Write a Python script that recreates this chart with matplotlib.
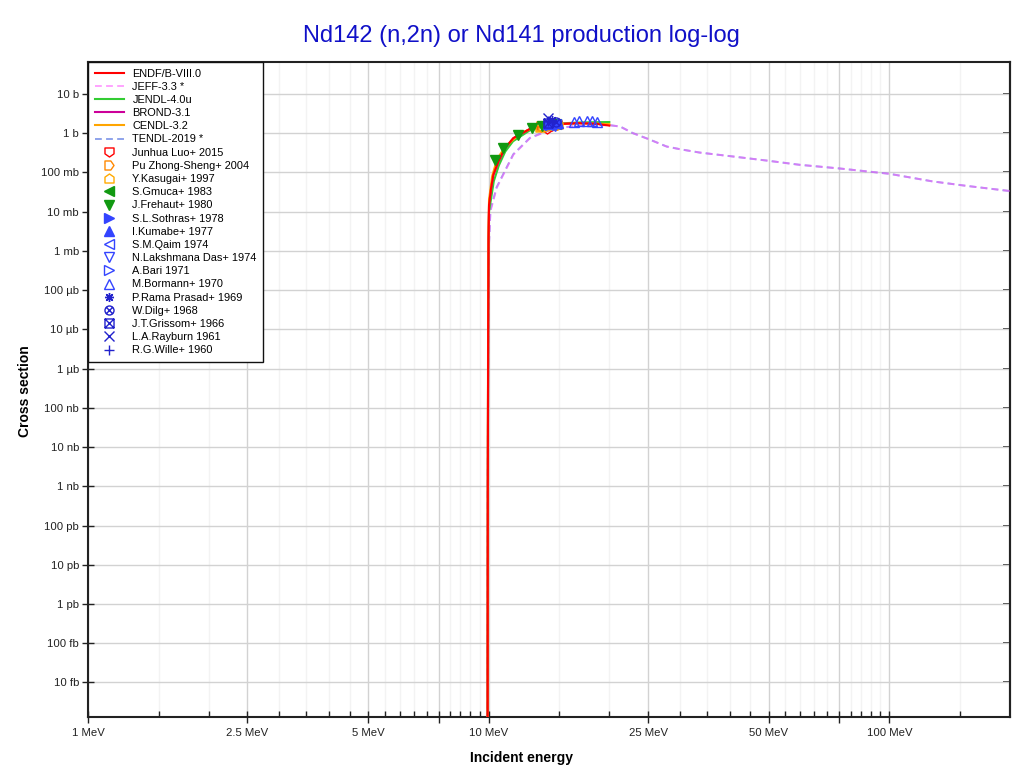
import numpy as np
import matplotlib
matplotlib.use('Agg')
import matplotlib.pyplot as plt
from matplotlib.path import Path

plt.rcParams['font.family'] = ['Liberation Sans', 'DejaVu Sans']

# ---------------- evaluated data (energy MeV, cross section b) ----------------
endf_e = [9.935, 9.95, 9.97, 9.99, 10.02, 10.14, 10.27, 10.57, 10.98, 11.52, 12.68, 13.95, 15.31, 16.85, 18.6, 20.0]
endf_s = [1e-17, 1e-9, 1e-5, 2e-3, 0.015, 0.04, 0.087, 0.19, 0.415, 0.746, 1.29, 1.56, 1.72, 1.80, 1.72, 1.56]

jeff_e = [9.935, 9.95, 9.97, 10.0, 10.1, 10.47, 11.52, 12.68, 13.95, 15.31, 16.85, 18.5, 20.0, 21.3, 22.9, 25.1, 27.8,
          30.0, 33.6, 40.7, 50.0, 59.7, 75.0, 100.0, 128.0, 155.0, 200.0]
jeff_s = [1e-17, 1e-9, 1e-5, 1e-3, 0.01, 0.04, 0.28, 0.746, 1.1, 1.39, 1.53, 1.6, 1.6, 1.47, 1.0, 0.70, 0.456,
          0.39, 0.32, 0.254, 0.197, 0.156, 0.126, 0.092, 0.059, 0.0456, 0.0334]

tendl_e = [9.935, 9.95, 9.97, 10.0, 10.1, 10.47, 11.52, 12.68, 13.95, 15.31, 16.85, 18.5, 20.0, 21.3, 22.9, 25.1, 27.8,
           30.0, 33.6, 40.7, 50.0, 59.7, 75.0, 100.0, 128.0, 155.0, 200.0]
tendl_s = [1e-17, 1e-9, 1e-5, 1e-3, 0.011, 0.042, 0.29, 0.76, 1.12, 1.40, 1.54, 1.6, 1.6, 1.47, 1.0, 0.70, 0.456,
           0.39, 0.32, 0.254, 0.197, 0.156, 0.126, 0.092, 0.059, 0.0456, 0.0334]

jendl_e = [9.935, 9.95, 9.97, 9.99, 10.02, 10.3, 10.6, 11.0, 11.5, 12.7, 14.0, 15.3, 17.0, 20.0]
jendl_s = [1e-17, 1e-9, 1e-5, 1e-3, 0.01, 0.06, 0.15, 0.34, 0.62, 1.2, 1.6, 1.78, 1.88, 1.92]

brond_e = [9.935, 9.95, 9.97, 9.99, 10.02, 10.14, 10.27, 10.57, 10.98, 11.52, 12.68, 13.95, 15.31, 16.85, 18.6, 20.0]
brond_s = [1e-17, 1e-9, 1e-5, 2e-3, 0.015, 0.04, 0.085, 0.185, 0.41, 0.74, 1.28, 1.56, 1.73, 1.80, 1.74, 1.6]

cendl_e = [9.935, 9.95, 9.97, 9.99, 10.02, 10.2, 10.5, 11.0, 12.0, 13.0, 14.0, 15.0, 17.0, 20.0]
cendl_s = [1e-17, 1e-8, 1e-4, 4e-3, 0.02, 0.08, 0.22, 0.45, 1.0, 1.38, 1.6, 1.72, 1.78, 1.7]

# ---------------- experimental data ----------------
luo_e = [13.5, 14.0, 14.4, 14.8];            luo_s = [1.45, 1.3, 1.55, 1.6]
pu_e = [13.5, 14.1, 14.6, 14.8];             pu_s = [1.55, 1.6, 1.65, 1.7]
kasugai_e = [13.4, 13.7, 14.1, 14.5, 14.9];  kasugai_s = [1.45, 1.5, 1.6, 1.62, 1.68]
gmuca_e = [14.7];                            gmuca_s = [1.75]
frehaut_e = [10.37, 10.88, 11.86, 12.8, 13.6, 14.5]
frehaut_s = [0.21, 0.43, 0.905, 1.34, 1.56, 1.7]
sothras_e = [14.8];                          sothras_s = [1.65]
kumabe_e = [14.1, 14.5, 14.9];               kumabe_s = [1.75, 1.78, 1.8]
qaim_e = [14.7];                             qaim_s = [1.7]
das_e = [14.6];                              das_s = [1.55]
bari_e = [14.2];                             bari_s = [1.65]
bormann_e = [16.3, 16.85, 17.6, 18.1, 18.6]; bormann_s = [1.97, 2.05, 2.05, 2.0, 1.97]
prasad_e = [14.4];                           prasad_s = [2.2]
dilg_e = [14.7];                             dilg_s = [1.9]
grissom_e = [14.1];                          grissom_s = [1.8]
rayburn_e = [14.1];                          rayburn_s = [2.4]
wille_e = [14.1];                            wille_s = [2.0]

# ---------------- ticks ----------------
x_major = [1, 2.5, 5, 10, 25, 50, 100]
x_major_labels = ['1 MeV', '2.5 MeV', '5 MeV', '10 MeV', '25 MeV', '50 MeV', '100 MeV']
x_medium = [7.5, 75]
x_minor = [1.5, 2, 3, 3.5, 4, 4.5, 5.5, 6, 6.5, 7, 8, 8.5, 9, 9.5, 15, 20,
           30, 35, 40, 45, 55, 60, 65, 70, 80, 85, 90, 95, 150]
y_ticks = [1e1, 1e0, 1e-1, 1e-2, 1e-3, 1e-4, 1e-5, 1e-6, 1e-7, 1e-8, 1e-9, 1e-10, 1e-11, 1e-12, 1e-13, 1e-14]
y_tick_labels = ['10 b', '1 b', '100 mb', '10 mb', '1 mb', '100 µb', '10 µb', '1 µb', '100 nb', '10 nb',
                 '1 nb', '100 pb', '10 pb', '1 pb', '100 fb', '10 fb']

# ---------------- marker shapes ----------------
def closed(verts):
    return Path(verts + [verts[0]], [Path.MOVETO] + [Path.LINETO] * (len(verts) - 1) + [Path.CLOSEPOLY])

shield_down = closed([(-1, 1), (1, 1), (1, -0.3), (0, -1), (-1, -0.3)])
house_right = closed([(-1, -1), (0.3, -1), (1, 0), (0.3, 1), (-1, 1)])
house_up = closed([(-1, -1), (1, -1), (1, 0.3), (0, 1), (-1, 0.3)])
d = 0.707
circ_x = Path.make_compound_path(Path.unit_circle(),
                                 Path([(-d, -d), (d, d)], [Path.MOVETO, Path.LINETO]),
                                 Path([(-d, d), (d, -d)], [Path.MOVETO, Path.LINETO]))
sq_x = Path.make_compound_path(closed([(-1, -1), (1, -1), (1, 1), (-1, 1)]),
                               Path([(-1, -1), (1, 1)], [Path.MOVETO, Path.LINETO]),
                               Path([(-1, 1), (1, -1)], [Path.MOVETO, Path.LINETO]))

fig = plt.figure(figsize=(10.2, 7.74), dpi=100)
ax = fig.add_axes([88 / 1020, 1 - 717 / 774, (1010 - 88) / 1020, (717 - 62) / 774])

ax.set_xscale('log')
ax.set_yscale('log')

dash = (3.5, 2.2)
ax.plot(tendl_e, tendl_s, color='#4466DD', lw=1.4, dashes=dash, alpha=0.6, label='TENDL-2019 *', zorder=3)
ax.plot(jeff_e, jeff_s, color='#FF66FF', lw=1.4, dashes=dash, alpha=0.6, label='JEFF-3.3 *', zorder=3.1)
ax.plot(jendl_e, jendl_s, color='#33CC33', lw=1.5, label='JENDL-4.0u', zorder=3.2)
ax.plot(brond_e, brond_s, color='#CC0099', lw=1.5, label='BROND-3.1', zorder=3.3)
ax.plot(cendl_e, cendl_s, color='#FFA500', lw=1.5, label='CENDL-3.2', zorder=3.4)
ax.plot(endf_e, endf_s, color='#FF0000', lw=1.5, label='ENDF/B-VIII.0', zorder=3.5)

ms = 6.5
blue = '#3344FF'
dblue = '#2222CC'
exp_specs = [
    (luo_e, luo_s, shield_down, '#FF0000', False, 'Junhua Luo+ 2015'),
    (pu_e, pu_s, house_right, '#FF8800', False, 'Pu Zhong-Sheng+ 2004'),
    (kasugai_e, kasugai_s, house_up, '#FFAA00', False, 'Y.Kasugai+ 1997'),
    (gmuca_e, gmuca_s, '<', '#119911', True, 'S.Gmuca+ 1983'),
    (frehaut_e, frehaut_s, 'v', '#119911', True, 'J.Frehaut+ 1980'),
    (sothras_e, sothras_s, '>', blue, True, 'S.L.Sothras+ 1978'),
    (kumabe_e, kumabe_s, '^', blue, True, 'I.Kumabe+ 1977'),
    (qaim_e, qaim_s, '<', blue, False, 'S.M.Qaim 1974'),
    (das_e, das_s, 'v', blue, False, 'N.Lakshmana Das+ 1974'),
    (bari_e, bari_s, '>', blue, False, 'A.Bari 1971'),
    (bormann_e, bormann_s, '^', blue, False, 'M.Bormann+ 1970'),
    (prasad_e, prasad_s, (8, 2, 0), dblue, False, 'P.Rama Prasad+ 1969'),
    (dilg_e, dilg_s, circ_x, dblue, False, 'W.Dilg+ 1968'),
    (grissom_e, grissom_s, sq_x, dblue, False, 'J.T.Grissom+ 1966'),
    (rayburn_e, rayburn_s, 'x', dblue, False, 'L.A.Rayburn 1961'),
    (wille_e, wille_s, '+', dblue, False, 'R.G.Wille+ 1960'),
]
exp_handles = []
for e, s, m, c, filled, lab in exp_specs:
    h, = ax.plot(e, s, linestyle='none', marker=m, ms=ms, mew=1.0,
                 mec=c, mfc=(c if filled else 'none'), label=lab, zorder=4)
    exp_handles.append(h)

ax.set_xlim(1, 200)
ax.set_ylim(1.32e-15, 65)

ax.set_xticks(x_major + x_medium)
ax.set_xticklabels(x_major_labels + ['', ''])
ax.set_xticks(x_minor, minor=True)
ax.set_xticklabels([''] * len(x_minor), minor=True)
ax.set_yticks(y_ticks)
ax.set_yticklabels(y_tick_labels)
ax.set_yticks([], minor=True)

ax.grid(True, which='major', color='#D2D2D2', lw=1.0, zorder=0)
ax.grid(True, which='minor', axis='x', color='#F3F3F3', lw=1.0, zorder=0)
ax.set_axisbelow(True)

ax.tick_params(axis='x', which='major', direction='inout', length=8, width=1.0, labelsize=8.2, pad=4,
               top=False, colors='#222222', labelcolor='#222222')
ax.tick_params(axis='x', which='minor', direction='in', length=4, width=1.0, top=False, colors='#222222')
ax.tick_params(axis='y', which='major', direction='inout', length=9, width=1.0, labelsize=8.2, pad=2,
               right=False, colors='#222222', labelcolor='#222222')
for sp in ax.spines.values():
    sp.set_linewidth(1.5)
    sp.set_color('#222222')

sec = ax.secondary_yaxis('right')
sec.set_yticks(y_ticks)
sec.set_yticklabels([''] * len(y_ticks))
sec.set_yticks([], minor=True)
sec.tick_params(axis='y', which='major', direction='in', length=5, width=1.2, colors='#222222')
sec.spines['right'].set_linewidth(1.5)
sec.spines['right'].set_color('#222222')

fig.text(521 / 1020, 1 - 36 / 774, 'Nd142 (n,2n) or Nd141 production log-log', color='#1010C8',
         fontsize=17, ha='center', va='center')
fig.text(522 / 1020, 1 - 758 / 774, 'Incident energy', fontsize=10, fontweight='bold', ha='center', va='center')
fig.text(25 / 1020, 1 - 391 / 774, 'Cross section', fontsize=10, fontweight='bold', ha='center', va='center',
         rotation=90)

handles, labels = ax.get_legend_handles_labels()
order = ['ENDF/B-VIII.0', 'JEFF-3.3 *', 'JENDL-4.0u', 'BROND-3.1', 'CENDL-3.2', 'TENDL-2019 *']
hmap = dict(zip(labels, handles))
leg_h = [hmap[k] for k in order] + exp_handles
leg_l = order + [h.get_label() for h in exp_handles]
leg = ax.legend(leg_h, leg_l, loc='upper left', bbox_to_anchor=(0, 1), borderaxespad=0, fontsize=7.9,
                frameon=True, fancybox=False, edgecolor='#111111', framealpha=1, handlelength=2.7,
                handletextpad=0.75, labelspacing=0.29, borderpad=0.6, numpoints=1)
leg.get_frame().set_linewidth(1.0)
leg.set_zorder(10)

fig.savefig('out.png', dpi=100)
